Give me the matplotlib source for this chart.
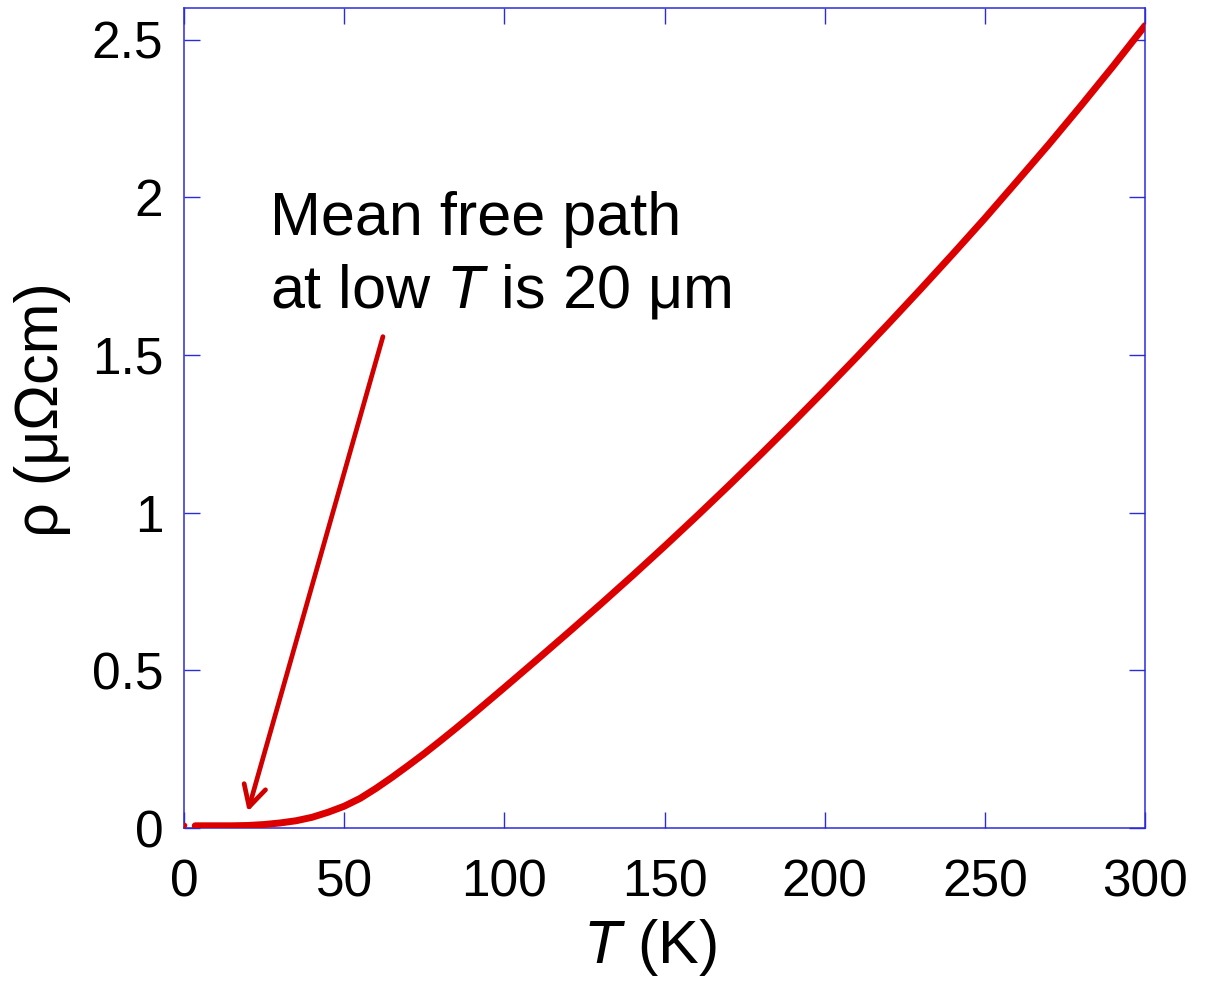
import matplotlib
matplotlib.use("Agg")
import matplotlib.pyplot as plt

plt.rcParams['font.family'] = ['Liberation Sans', 'DejaVu Sans']
plt.rcParams['mathtext.fontset'] = 'custom'
plt.rcParams['mathtext.rm'] = 'Liberation Sans'
plt.rcParams['mathtext.it'] = 'Liberation Sans:italic'

# data
T_vals = [3.5, 10, 15, 20, 25, 30, 35, 40, 45, 50, 55, 60, 65, 70, 75, 80, 85, 90, 95,
          100, 110, 120, 130, 140, 150, 160, 170, 180, 190, 200, 210, 220, 230, 240,
          250, 260, 270, 280, 290, 300]
rho_vals = [0.007, 0.007, 0.007, 0.008, 0.011, 0.016, 0.023, 0.034, 0.050, 0.069, 0.094,
            0.126, 0.161, 0.198, 0.236, 0.276, 0.317, 0.359, 0.402,
            0.445, 0.532, 0.620, 0.709, 0.800, 0.893, 0.988, 1.085, 1.184, 1.285, 1.388,
            1.493, 1.600, 1.709, 1.820, 1.933, 2.050, 2.168, 2.290, 2.415, 2.544]
dot_T = [0]
dot_rho = [0.008]

x_ticks = [0, 50, 100, 150, 200, 250, 300]
y_ticks = [0, 0.5, 1, 1.5, 2, 2.5]
y_ticklabels = ["0", "0.5", "1", "1.5", "2", "2.5"]

arrow_tip = (19.9, 0.052)
arrow_start = (62.1, 1.558)

W, H = 1208, 985
fig = plt.figure(figsize=(W / 100, H / 100), dpi=100)
ax = fig.add_axes([184 / W, 1 - 828 / H, (1145 - 184) / W, (828 - 8) / H])

red = '#dc0000'
blue = '#2b2bdc'

ax.plot(T_vals, rho_vals, color=red, lw=5.0, solid_capstyle='round', solid_joinstyle='round', zorder=3)
ax.plot(dot_T, dot_rho, 'o', color=red, ms=4, mec='none', zorder=3)

ax.set_xlim(0, 300)
ax.set_ylim(0, 2.6)
ax.set_xticks(x_ticks)
ax.set_xticklabels([str(v) for v in x_ticks])
ax.set_yticks(y_ticks)
ax.set_yticklabels(y_ticklabels)

for s in ax.spines.values():
    s.set_color(blue)
    s.set_linewidth(1.1)
ax.tick_params(direction='in', length=11.5, width=1.0, color=blue, labelsize=37,
               top=True, right=True, labelcolor='black')
ax.tick_params(axis='y', pad=15)
ax.tick_params(axis='x', pad=22)

ax.set_xlabel(r'$\mathit{T}$ (K)', fontsize=44)
ax.set_ylabel('ρ (μΩcm)', fontsize=44)
ax.xaxis.set_label_coords(0.485, -0.108)
ax.yaxis.set_label_coords(-0.118, 0.51)

ax.text(26.8, 1.881, 'Mean free path', fontsize=44, va='baseline', ha='left')
ax.text(26.8, 1.650, r'at low $\mathit{T}$ is 20 μm', fontsize=44, va='baseline', ha='left')

ax.annotate('', xy=arrow_tip, xytext=arrow_start,
            arrowprops=dict(arrowstyle='->,head_length=1.5,head_width=0.8', mutation_scale=10,
                            color='#d00000', lw=3.4, shrinkA=0, shrinkB=0))

fig.savefig('out.png', dpi=100)
